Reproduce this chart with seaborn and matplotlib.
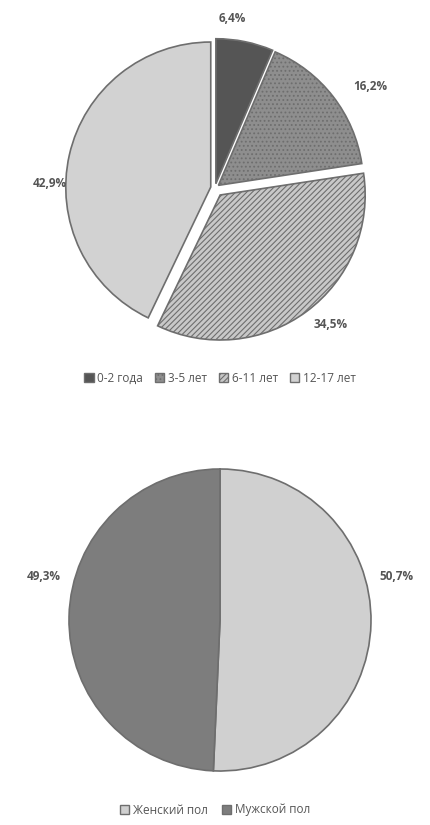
import matplotlib.pyplot as plt
import matplotlib.patches as mpatches
import seaborn as sns

# Données
age_labels = ["0-2 года", "3-5 лет", "6-11 лет", "12-17 лет"]
age_values = [6.4, 16.2, 34.5, 42.9]
age_text = ["6,4%", "16,2%", "34,5%", "42,9%"]

sex_labels = ["Женский пол", "Мужской пол"]
sex_values = [50.7, 49.3]
sex_text = ["50,7%", "49,3%"]

sns.set_theme(style="white")
plt.rcParams["font.family"] = ["Open Sans", "DejaVu Sans"]
plt.rcParams["hatch.color"] = "#3c3c3c"
plt.rcParams["hatch.linewidth"] = 0.8

W, H = 430, 825
fig = plt.figure(figsize=(W / 100, H / 100), dpi=100)


def pix_axes(cx, cy, r, pad=1.45):
    # axes carrée centrée sur (cx, cy) en pixels, rayon r
    half = r * pad
    ax = fig.add_axes([(cx - half) / W, 1 - (cy + half) / H, 2 * half / W, 2 * half / H])
    return ax


def fix_limits(ax, pad=1.45):
    ax.set_xlim(-pad, pad)
    ax.set_ylim(-pad, pad)
    ax.set_aspect("equal")
    ax.axis("off")


txt_color = "#555555"
edge = "#6e6e6e"

# PIE AGE ----------------------------
ax1 = pix_axes(215, 188, 145)
age_colors = ["#555555", "#8e8e8e", "#c8c8c8", "#d2d2d2"]
age_hatch = [None, "....", "//////", None]
wedges, _ = ax1.pie(
    age_values,
    colors=age_colors,
    startangle=90,
    counterclock=False,
    explode=[0.03, 0.03, 0.06, 0.03],
    wedgeprops=dict(edgecolor=edge, linewidth=1.2),
)
for w, h in zip(wedges, age_hatch):
    if h:
        w.set_hatch(h)
fix_limits(ax1)

age_pos = [(0.12, 1.17), (1.07, 0.7), (0.8, -0.94), (-1.14, 0.03)]
for (x, y), t in zip(age_pos, age_text):
    ax1.text(x, y, t, ha="center", va="center", fontsize=8.5,
             color=txt_color, fontweight="bold")

handles = [
    mpatches.Patch(facecolor=c, edgecolor=edge, hatch=h, label=l)
    for c, h, l in zip(age_colors, age_hatch, age_labels)
]
fig.legend(handles=handles, loc="center", bbox_to_anchor=(220 / W, 1 - 378 / H),
           ncol=4, frameon=False, fontsize=8.5, handlelength=0.8, handleheight=0.8,
           handletextpad=0.3, columnspacing=1.0, labelcolor=txt_color)

# PIE SEXE ----------------------------
ax2 = pix_axes(220, 620, 151)
sex_colors = ["#d0d0d0", "#7d7d7d"]
ax2.pie(
    sex_values,
    colors=sex_colors,
    startangle=90,
    counterclock=False,
    wedgeprops=dict(edgecolor=edge, linewidth=1.2),
)
fix_limits(ax2)
sex_pos = [(1.17, 0.29), (-1.17, 0.29)]
for (x, y), t in zip(sex_pos, sex_text):
    ax2.text(x, y, t, ha="center", va="center", fontsize=8.5,
             color=txt_color, fontweight="bold")

handles2 = [
    mpatches.Patch(facecolor=c, edgecolor=edge, label=l)
    for c, l in zip(sex_colors, sex_labels)
]
fig.legend(handles=handles2, loc="center", bbox_to_anchor=(215 / W, 1 - 810 / H),
           ncol=2, frameon=False, fontsize=8.5, handlelength=0.8, handleheight=0.8,
           handletextpad=0.3, columnspacing=1.2, labelcolor=txt_color)

fig.savefig("out.png", dpi=100, facecolor="white")
